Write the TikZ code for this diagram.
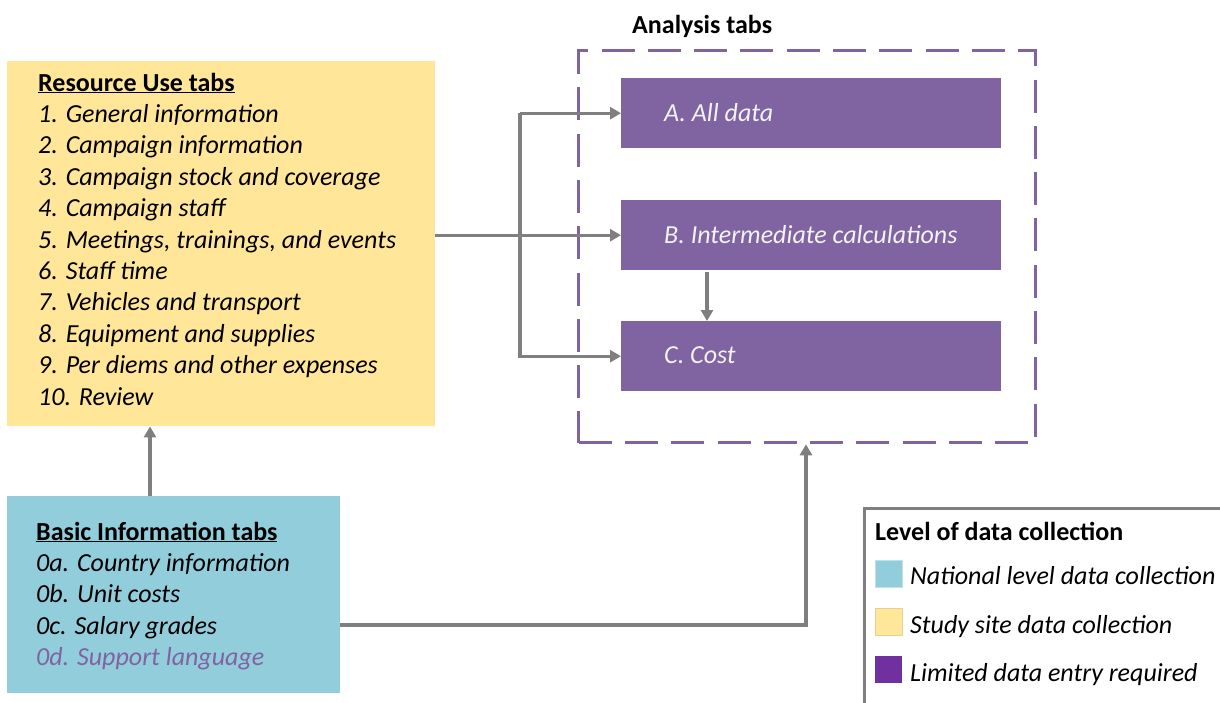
\documentclass[tikz,border=0pt]{standalone}
\usepackage{fontspec}
\setmainfont{Carlito}
\usetikzlibrary{arrows.meta,calc}
\definecolor{ylw}{HTML}{FFE699}
\definecolor{blu}{HTML}{92CDDC}
\definecolor{pur}{HTML}{8064A2}
\definecolor{dpur}{HTML}{7030A0}
\definecolor{gry}{HTML}{7F7F7F}
\definecolor{wht}{HTML}{F2F2F2}
\tikzset{
  box/.style={anchor=north west, inner sep=0, draw=none},
  it/.style={anchor=base west, inner sep=0, font=\fontsize{26}{31}\selectfont\itshape},
  hd/.style={anchor=base west, inner sep=0, font=\fontsize{26}{31}\selectfont\bfseries},
  arr/.style={draw=gry, line width=3.2pt, -{Triangle[length=11pt,width=12pt]}},
  sw/.style={minimum width=27, minimum height=27, inner sep=0, anchor=north west}
}
\begin{document}
\begin{tikzpicture}[x=1pt,y=-1pt]
\useasboundingbox (0,0) rectangle (1220,702);
\clip (0,0) rectangle (1220,702);

% Resource use box
\node[box, fill=ylw, minimum width=428, minimum height=365] (res) at (7,61) {};
\node[hd] (rt) at (38,91) {\underline{Resource Use tabs}};
\foreach \t [count=\i] in {1. General information, 2. Campaign information, 3. Campaign stock and coverage, 4. Campaign staff, {5. Meetings, trainings, and events}, 6. Staff time, 7. Vehicles and transport, 8. Equipment and supplies, 9. Per diems and other expenses, 10. Review}
  \node[it] (r\i) at (38,91+31.4*\i) {\t};

% Basic information box
\node[box, fill=blu, minimum width=333, minimum height=197] (bas) at (7,496) {};
\node[hd] (bt) at (36,540) {\underline{Basic Information tabs}};
\node[it] (b1) at (36,571) {0a. Country information};
\node[it] (b2) at (36,602) {0b. Unit costs};
\node[it] (b3) at (36,634) {0c. Salary grades};
\node[it, text=pur] (b4) at (36,665) {0d. Support language};

% Analysis tabs
\node[hd] (at) at (632,33) {Analysis tabs};
\node[box, draw=pur, line width=3.3pt, dash pattern=on 33pt off 13.3pt, minimum width=457, minimum height=392] (ana) at (577,49) {};
\node[box, fill=pur, minimum width=380, minimum height=70] (A) at (621,78) {};
\node[box, fill=pur, minimum width=380, minimum height=70] (B) at (621,200) {};
\node[box, fill=pur, minimum width=380, minimum height=70] (C) at (621,321) {};
\node[it, text=wht] (At) at (664,121) {A. All data};
\node[it, text=wht] (Bt) at (664,243) {B. Intermediate calculations};
\node[it, text=wht] (Ct) at (664,363) {C. Cost};

% connectors
\coordinate (j) at (520,235);
\coordinate (k) at (806,625);
\coordinate (m) at (150,0);
\draw[arr] (res.east |- B.west) -- (B.west);
\draw[arr] (j |- A.west) -- (A.west);
\draw[arr] (j |- A.west) -- (j |- C.west) -- (C.west);
\draw[arr] ($(B.south west)+(86,2)$) -- ($(C.north west)+(86,0)$);
\draw[arr] (bas.east |- k) -- (k) -- (k |- ana.south);
\draw[arr] (bas.north -| m) -- (res.south -| m);

% legend
\node[box, draw=gry, line width=2.5pt, minimum width=420, minimum height=260] (leg) at (863,507) {};
\node[hd] (lt) at (875,540) {Level of data collection};
\node[sw, fill=blu, draw=blu!60!white, line width=1pt] (s1) at (875,560) {};
\node[sw, fill=ylw, draw=ylw!80!gray, line width=0.6pt] (s2) at (875,608) {};
\node[sw, fill=dpur] (s3) at (875,656) {};
\node[it] (l1) at (910,584) {National level data collection};
\node[it] (l2) at (910,633) {Study site data collection};
\node[it] (l3) at (910,681) {Limited data entry required};
\end{tikzpicture}
\end{document}
